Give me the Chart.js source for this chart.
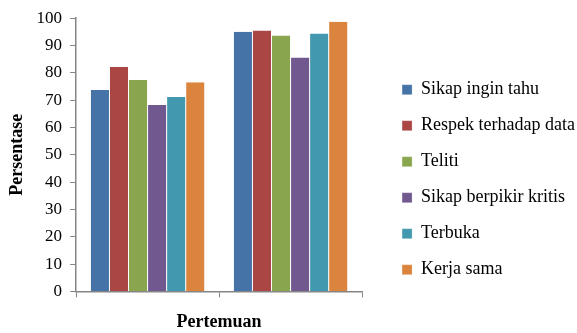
<!DOCTYPE html>
<html>
<head>
<meta charset="utf-8">
<script src="https://cdn.jsdelivr.net/npm/chart.js@4"></script>
<style>
  body { margin: 0; background: #fff; }
  #wrap { width: 577px; height: 333px; }
</style>
</head>
<body>
<div id="wrap"><canvas id="barChart"></canvas></div>
<script>
const categories = ["Pertemuan 1", "Pertemuan 2"];
const seriesNames = ["Sikap ingin tahu", "Respek terhadap data", "Teliti", "Sikap berpikir kritis", "Terbuka", "Kerja sama"];
const sikapIngin = [73.7, 95.0];
const respek = [82.1, 95.5];
const teliti = [77.4, 93.7];
const kritis = [68.2, 85.6];
const terbuka = [71.2, 94.4];
const kerjaSama = [76.6, 98.7];
const yTicks = [0, 10, 20, 30, 40, 50, 60, 70, 80, 90, 100];

const colors = ['#4572A7', '#AA4643', '#89A54E', '#71588F', '#4198AF', '#DB843D'];
const values = [sikapIngin, respek, teliti, kritis, terbuka, kerjaSama];
const serif = "'Liberation Serif', 'Times New Roman', serif";

const ctx = document.getElementById("barChart").getContext("2d");
new Chart(ctx, {
  type: 'bar',
  data: {
    labels: categories,
    datasets: seriesNames.map((name, i) => ({
      label: name,
      data: values[i],
      yAxisID: 'y',
      backgroundColor: colors[i],
      borderColor: '#ffffff',
      borderWidth: { left: 0.5, right: 0.5, top: 0, bottom: 0 },
      borderSkipped: false,
      categoryPercentage: 0.8,
      barPercentage: 1.0
    }))
  },
  options: {
    responsive: true,
    maintainAspectRatio: false,
    animation: false,
    layout: { padding: { top: 8, left: 7, right: -8, bottom: 0 } },
    scales: {
      x: {
        grid: { display: true, drawOnChartArea: false, offset: true, color: '#868686', tickLength: 6 },
        border: { color: '#868686', width: 1.5 },
        ticks: { display: false },
        title: {
          display: true, text: 'Pertemuan', color: '#000',
          font: { family: serif, size: 18, weight: 'bold' }, padding: { top: 14, bottom: 0 }
        }
      },
      y: {
        min: 0, max: 100,
        afterBuildTicks: axis => { axis.ticks = yTicks.map(v => ({ value: v })); },
        grid: { display: true, drawOnChartArea: false, color: '#868686', tickLength: 6 },
        border: { color: '#868686', width: 1.5 },
        ticks: { color: '#000', font: { family: serif, size: 17 }, padding: 8 },
        title: {
          display: true, text: 'Persentase', color: '#000',
          font: { family: serif, size: 18, weight: 'bold' }, padding: { top: 0, bottom: 0 }
        }
      },
      gap: {
        type: 'linear',
        position: 'right',
        grid: { display: false },
        border: { display: false },
        ticks: { display: false },
        afterFit: scale => { scale.width = 22; }
      }
    },
    plugins: {
      tooltip: { enabled: false },
      legend: {
        position: 'right',
        align: 'center',
        maxWidth: 220,
        title: { display: true, text: ' ', padding: 2, font: { size: 12 } },
        labels: {
          color: '#000',
          font: { family: serif, size: 18 },
          boxWidth: 10,
          boxHeight: 10,
          padding: 18
        }
      }
    }
  }
});
</script>
</body>
</html>
